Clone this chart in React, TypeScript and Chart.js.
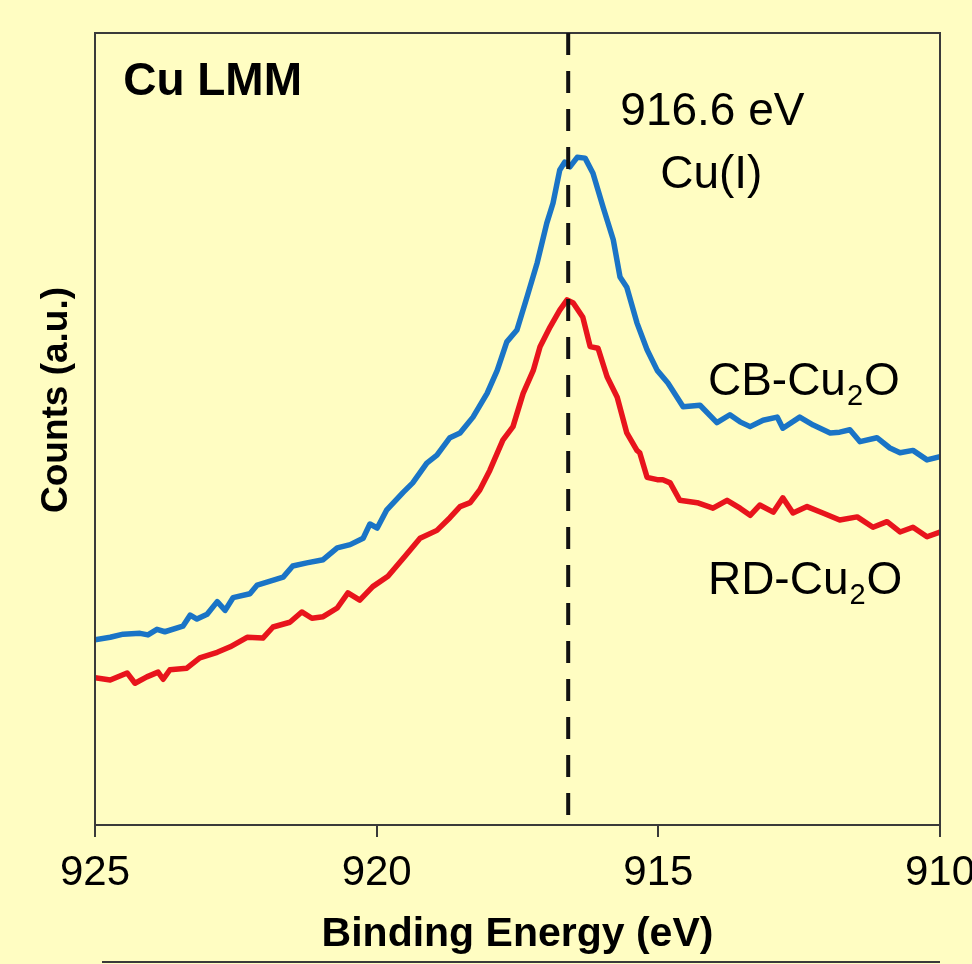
import React, { useEffect, useRef } from "react";
import { Chart, registerables } from "chart.js";

Chart.register(...registerables);

// ---- data (binding energy in eV, counts in arbitrary units) ----
const blueEnergy = [
  925.0, 924.73, 924.5, 924.2, 924.06, 923.9, 923.76, 923.44, 923.31, 923.19, 923.01, 922.83, 922.69, 922.55,
  922.25, 922.12, 921.89, 921.66, 921.49, 921.24, 920.95, 920.7, 920.47, 920.24, 920.12, 919.99, 919.82,
  919.53, 919.36, 919.11, 918.93, 918.7, 918.52, 918.29, 918.04, 917.86, 917.69, 917.51, 917.33, 917.15,
  916.98, 916.87, 916.75, 916.66, 916.57, 916.44, 916.3, 916.16, 915.98, 915.8, 915.68, 915.56, 915.38,
  915.2, 915.02, 914.83, 914.56, 914.26, 913.96, 913.73, 913.55, 913.37, 913.14, 912.89, 912.79, 912.49,
  912.25, 911.95, 911.78, 911.6, 911.42, 911.12, 910.89, 910.71, 910.48, 910.23, 910.0,
];
const blueCounts = [
  23.4, 23.7, 24.1, 24.2, 24.0, 24.7, 24.4, 25.1, 26.5, 26.0, 26.6, 28.2, 27.1, 28.7,
  29.2, 30.3, 30.8, 31.3, 32.7, 33.1, 33.5, 35.0, 35.4, 36.2, 38.0, 37.5, 39.8,
  42.0, 43.2, 45.7, 46.7, 48.9, 49.5, 51.5, 54.5, 57.4, 61.0, 62.5, 66.7, 71.0,
  76.0, 78.5, 82.7, 83.7, 83.1, 84.3, 84.2, 82.3, 78.0, 73.9, 69.2, 67.9, 63.4,
  60.0, 57.4, 55.8, 52.8, 53.0, 50.8, 51.8, 50.9, 50.3, 51.1, 51.5, 50.1, 51.5,
  50.5, 49.5, 49.6, 49.9, 48.4, 48.9, 47.6, 47.0, 47.3, 46.1, 46.5,
];
const redEnergy = [
  925.0, 924.73, 924.43, 924.29, 924.08, 923.88, 923.79, 923.67, 923.37, 923.14, 922.83, 922.6, 922.3,
  922.02, 921.84, 921.54, 921.33, 921.15, 920.95, 920.7, 920.51, 920.3, 920.07, 919.8, 919.49, 919.23,
  918.93, 918.7, 918.52, 918.34, 918.17, 917.99, 917.76, 917.58, 917.4, 917.22, 917.1, 916.92, 916.75,
  916.62, 916.51, 916.34, 916.21, 916.07, 915.91, 915.73, 915.56, 915.38, 915.33, 915.2, 915.02, 914.92,
  914.79, 914.62, 914.31, 914.03, 913.78, 913.55, 913.37, 913.2, 912.96, 912.79, 912.61, 912.36, 912.08,
  911.78, 911.47, 911.19, 910.94, 910.71, 910.48, 910.23, 910.0,
];
const redCounts = [
  18.6, 18.3, 19.2, 17.9, 18.7, 19.3, 18.4, 19.6, 19.8, 21.1, 21.8, 22.5, 23.7,
  23.6, 25.0, 25.6, 26.9, 26.1, 26.3, 27.4, 29.3, 28.4, 30.1, 31.4, 34.0, 36.2,
  37.2, 38.8, 40.2, 40.7, 42.3, 44.8, 48.6, 50.3, 54.5, 57.4, 60.4, 62.9, 65.0,
  66.3, 65.9, 64.1, 60.4, 60.2, 56.6, 54.0, 49.5, 47.3, 47.0, 43.9, 43.6, 43.6,
  43.2, 41.0, 40.7, 40.0, 41.0, 40.0, 39.1, 40.4, 39.5, 41.3, 39.4, 40.2, 39.4,
  38.5, 38.9, 37.6, 38.3, 37.0, 37.6, 36.4, 37.0,
];
const seriesNames = ["CB-Cu2O", "RD-Cu2O"];
const xTickValues = [925, 920, 915, 910];
const peakEnergy = 916.6;
const panelTitle = "Cu LMM";
const peakLabel = ["916.6 eV", "Cu(I)"];
const xTitle = "Binding Energy (eV)";
const yTitle = "Counts (a.u.)";

const FONT = "'Liberation Sans', Arial, Helvetica, sans-serif";
const BG = "#fffdc2";
const BLUE = "#1a74c6";
const RED = "#e8141c";

function drawSubText(ctx: CanvasRenderingContext2D, x: number, y: number, main: string, size: number) {
  // draws e.g. "CB-Cu2O" with the "2" as subscript
  const m = main.match(/^(.*?)(\d)(.*)$/);
  ctx.textAlign = "left";
  ctx.textBaseline = "alphabetic";
  if (!m) {
    ctx.font = `${size}px ${FONT}`;
    ctx.fillText(main, x, y);
    return;
  }
  ctx.font = `${size}px ${FONT}`;
  ctx.fillText(m[1], x, y);
  let cx = x + ctx.measureText(m[1]).width;
  const subSize = Math.round(size * 0.62);
  ctx.font = `${subSize}px ${FONT}`;
  ctx.fillText(m[2], cx + 1, y + 10);
  cx += ctx.measureText(m[2]).width + 2;
  ctx.font = `${size}px ${FONT}`;
  ctx.fillText(m[3], cx, y);
}

const backgroundPlugin = {
  id: "bgFill",
  beforeDraw(chart: any) {
    const ctx = chart.ctx;
    ctx.save();
    ctx.fillStyle = BG;
    ctx.fillRect(0, 0, chart.width, chart.height);
    ctx.restore();
  },
};

const overlayPlugin = {
  id: "overlay",
  afterDatasetsDraw(chart: any) {
    const ctx: CanvasRenderingContext2D = chart.ctx;
    const { left, right, top, bottom } = chart.chartArea;
    const xs = chart.scales.x;
    const ys = chart.scales.y;
    ctx.save();

    // frame
    ctx.strokeStyle = "#3a3a3a";
    ctx.lineWidth = 2;
    ctx.strokeRect(left, top, right - left, bottom - top);

    // dashed peak line
    const px = xs.getPixelForValue(peakEnergy);
    ctx.strokeStyle = "#111";
    ctx.lineWidth = 4;
    ctx.setLineDash([22, 16]);
    ctx.beginPath();
    ctx.moveTo(px, top);
    ctx.lineTo(px, bottom - 8);
    ctx.stroke();
    ctx.setLineDash([]);

    ctx.fillStyle = "#000";
    // panel title
    ctx.font = `bold 46px ${FONT}`;
    ctx.textAlign = "left";
    ctx.textBaseline = "alphabetic";
    ctx.fillText(panelTitle, xs.getPixelForValue(924.5), ys.getPixelForValue(92.2));

    // peak label
    ctx.font = `46px ${FONT}`;
    ctx.textAlign = "center";
    ctx.fillText(peakLabel[0], xs.getPixelForValue(914.04), ys.getPixelForValue(88.4));
    ctx.fillText(peakLabel[1], xs.getPixelForValue(914.06), ys.getPixelForValue(80.4));

    // series labels
    drawSubText(ctx, xs.getPixelForValue(914.12), ys.getPixelForValue(54.3), seriesNames[0], 46);
    drawSubText(ctx, xs.getPixelForValue(914.12), ys.getPixelForValue(29.2), seriesNames[1], 46);

    // y axis title
    ctx.save();
    ctx.translate(57, (top + bottom) / 2 - 29);
    ctx.rotate(-Math.PI / 2);
    ctx.font = `bold 37px ${FONT}`;
    ctx.textAlign = "center";
    ctx.textBaseline = "middle";
    ctx.fillText(yTitle, 0, 0);
    ctx.restore();

    // edge of the next panel below
    ctx.strokeStyle = "#3a3a3a";
    ctx.lineWidth = 2;
    ctx.beginPath();
    ctx.moveTo(left + 7, chart.height - 2);
    ctx.lineTo(right, chart.height - 2);
    ctx.stroke();

    ctx.restore();
  },
};

export default function App() {
  const canvasRef = useRef<HTMLCanvasElement | null>(null);

  useEffect(() => {
    const canvas = canvasRef.current;
    if (!canvas) return;
    const chart = new Chart(canvas, {
      type: "line",
      data: {
        datasets: [
          {
            label: seriesNames[0],
            data: blueEnergy.map((e, i) => ({ x: e, y: blueCounts[i] })),
            borderColor: BLUE,
            borderWidth: 5.5,
            pointRadius: 0,
            tension: 0,
            borderJoinStyle: "round",
            borderCapStyle: "round",
            fill: false,
          },
          {
            label: seriesNames[1],
            data: redEnergy.map((e, i) => ({ x: e, y: redCounts[i] })),
            borderColor: RED,
            borderWidth: 5.5,
            pointRadius: 0,
            tension: 0,
            borderJoinStyle: "round",
            borderCapStyle: "round",
            fill: false,
          },
        ],
      },
      options: {
        responsive: false,
        animation: false,
        devicePixelRatio: 1,
        events: [],
        layout: { padding: { left: 95, right: 32, top: 33, bottom: 0 } },
        plugins: { legend: { display: false }, tooltip: { enabled: false } },
        scales: {
          x: {
            type: "linear",
            min: 910,
            max: 925,
            reverse: true,
            afterBuildTicks: (scale: any) => {
              scale.ticks = xTickValues.map((v) => ({ value: v }));
            },
            afterFit: (scale: any) => {
              scale.height = 139;
              scale.paddingLeft = 0;
              scale.paddingRight = 0;
            },
            grid: {
              display: true,
              drawOnChartArea: false,
              drawTicks: true,
              tickLength: 12,
              color: "#3a3a3a",
              lineWidth: 2,
            },
            border: { display: true, color: "#3a3a3a", width: 2 },
            ticks: {
              color: "#000",
              font: { family: FONT, size: 42, lineHeight: 1 },
              padding: 15,
              maxRotation: 0,
              autoSkip: false,
              callback: (v: any) => String(v),
            },
            title: {
              display: true,
              text: xTitle,
              color: "#000",
              font: { family: FONT, size: 41, weight: "bold", lineHeight: 1 },
              padding: { top: 0, bottom: 9 },
            },
          },
          y: {
            type: "linear",
            display: false,
            min: 0,
            max: 100,
          },
        },
      },
      plugins: [backgroundPlugin, overlayPlugin],
    } as any);
    return () => chart.destroy();
  }, []);

  return (
    <div style={{ position: "absolute", left: 0, top: 0, width: 972, height: 964, background: BG }}>
      <canvas ref={canvasRef} width={972} height={964} style={{ display: "block", width: 972, height: 964 }} />
    </div>
  );
}
